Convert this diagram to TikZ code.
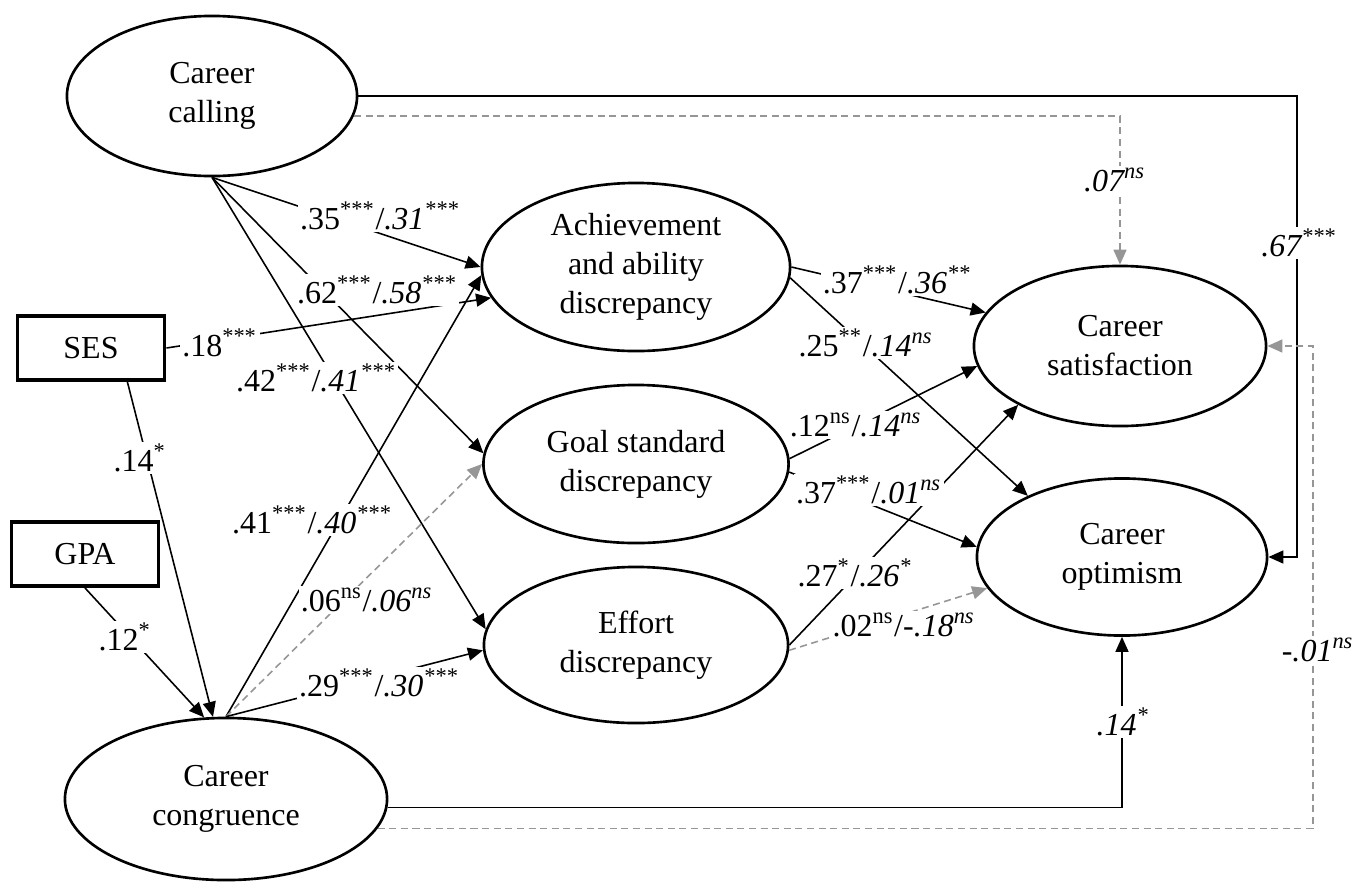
\documentclass[tikz,border=0pt]{standalone}
\usepackage{fontspec}
\setmainfont{Liberation Serif}
\usetikzlibrary{arrows.meta,positioning,calc,shapes.geometric}
\definecolor{nsGray}{RGB}{150,150,150}

\begin{document}
\begin{tikzpicture}[x=0.01cm, y=-0.01cm,
		font=\fontsize{9.1}{11.1}\selectfont,
		latent/.style={draw, ellipse, line width=0.75pt, inner sep=0pt, align=center},
		observed/.style={draw, rectangle, line width=1.1pt, inner sep=0pt,
			minimum width=1.47cm, minimum height=0.64cm},
		effect/.style={-{Triangle[length=1.5mm,width=1.3mm]}, line width=0.45pt},
		nseffect/.style={effect, nsGray, dash pattern=on 2pt off 1.3pt},
		coef/.style={fill=white, inner sep=0.6pt}]
				\useasboundingbox (0,0) rectangle (1357,881);
				% constructs
				\node[latent, minimum width=2.9cm, minimum height=1.6cm] (calling) at (212,96) {Career\\calling};
				\node[latent, minimum width=3.08cm, minimum height=1.68cm] (ach) at (636,267) {Achievement\\and ability\\discrepancy};
				\node[latent, minimum width=3.05cm, minimum height=1.58cm] (goal) at (636,464) {Goal standard\\discrepancy};
				\node[latent, minimum width=3.04cm, minimum height=1.56cm] (effort) at (636,645) {Effort\\discrepancy};
				\node[latent, minimum width=2.92cm, minimum height=1.6cm] (sat) at (1120,346) {Career\\satisfaction};
				\node[latent, minimum width=2.9cm, minimum height=1.57cm] (opt) at (1122,557) {Career\\optimism};
				\node[latent, minimum width=3.22cm, minimum height=1.62cm] (cong) at (226,799) {Career\\congruence};
				\node[observed] (ses) at (91,348) {SES};
				\node[observed] (gpa) at (85,554) {GPA};
				\coordinate (xr1) at (1297,0);
				\coordinate (xr2) at (1313,0);
				% paths
				\draw[effect] (calling.south) -- (ach.west);
				\draw[effect] (calling.south) -- (goal.176);
				\draw[effect] (calling.south) -- (effort.174);
				\draw[effect] (ses.east) -- (ach.192);
				\draw[effect] (ses.-43) -- (cong.99);
				\draw[effect] (gpa.south) -- (cong.105);
				\draw[effect] (cong.north) -- (ach.183);
				\draw[nseffect] (cong.north) -- (goal.west);
				\draw[effect] (cong.north) -- (effort.182);
				\draw[effect] (ach.east) -- (sat.166);
				\draw[effect] (ach.-4) -- (opt.147);
				\draw[effect] (goal.2) -- (sat.188);
				\draw[effect] (goal.-3) -- (opt.176);
				\draw[effect] (effort.east) -- (sat.210);
				\draw[nseffect] (effort.-2) -- (opt.193);
				\draw[effect] (calling.east) -| (xr1 |- opt.east) -- (opt.east);
				\draw[nseffect] (calling.-8) -| (sat.north);
				\draw[effect] (cong.-3) -| (opt.south);
				\draw[nseffect] (cong.-11) -| (xr2 |- sat.east) -- (sat.east);
				% coefficients
				\node[coef] (c35) at (380,216) {.35\textsuperscript{***}/\textit{.31\textsuperscript{***}}};
				\node[coef] (c62) at (377,290) {.62\textsuperscript{***}/\textit{.58\textsuperscript{***}}};
				\node[coef] (c42) at (316,378) {.42\textsuperscript{***}/\textit{.41\textsuperscript{***}}};
				\node[coef] (c18) at (220,343) {.18\textsuperscript{***}};
				\node[coef] (c14) at (140,458) {.14\textsuperscript{*}};
				\node[coef] (c12) at (125,637) {.12\textsuperscript{*}};
				\node[coef] (c41) at (312,520) {.41\textsuperscript{***}/\textit{.40\textsuperscript{***}}};
				\node[coef] (c06) at (367,600) {.06\textsuperscript{ns}/\textit{.06\textsuperscript{ns}}};
				\node[coef] (c29) at (379,683) {.29\textsuperscript{***}/\textit{.30\textsuperscript{***}}};
				\node[coef] (c37a) at (897,280) {.37\textsuperscript{***}/\textit{.36\textsuperscript{**}}};
				\node[coef] (c25) at (866,343) {.25\textsuperscript{**}/\textit{.14\textsuperscript{ns}}};
				\node[coef] (c12b) at (856,425) {.12\textsuperscript{ns}/\textit{.14\textsuperscript{ns}}};
				\node[coef] (c37b) at (869,490) {.37\textsuperscript{***}/\textit{.01\textsuperscript{ns}}};
				\node[coef] (c27) at (855,573) {.27\textsuperscript{*}/\textit{.26\textsuperscript{*}}};
				\node[coef] (c02) at (904,625) {.02\textsuperscript{ns}/-\textit{.18\textsuperscript{ns}}};
				\node[coef] (c07) at (1115,180) {\textit{.07\textsuperscript{ns}}};
				\node[coef] (c67) at (1299,243) {\textit{.67\textsuperscript{***}}};
				\node[coef] (c14b) at (1123,722) {\textit{.14\textsuperscript{*}}};
				\node[coef] (c01) at (1318,650) {\textit{-.01\textsuperscript{ns}}};
			\end{tikzpicture}
\end{document}
